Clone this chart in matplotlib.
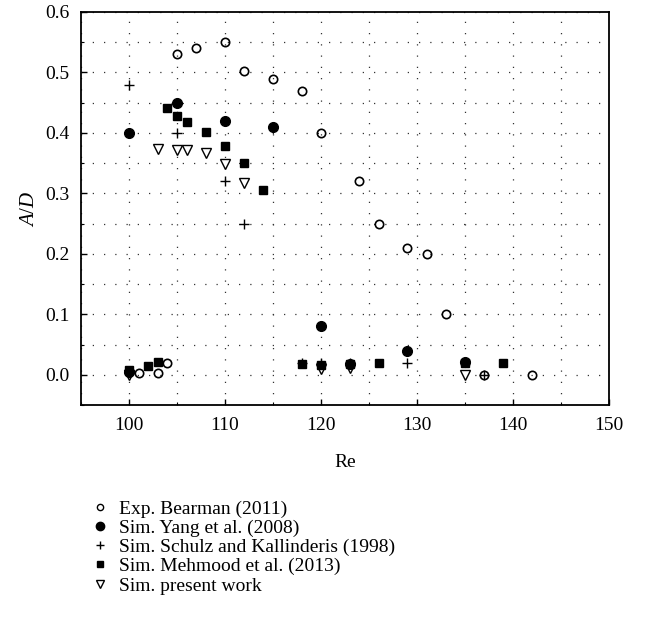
import numpy as np
import matplotlib
matplotlib.use("Agg")
from matplotlib import pyplot as plt
from matplotlib.ticker import MultipleLocator
from matplotlib.lines import Line2D

plt.rcParams["font.family"] = ["Liberation Serif", "DejaVu Serif"]
plt.rcParams["mathtext.fontset"] = "custom"
plt.rcParams["mathtext.rm"] = "Liberation Serif"
plt.rcParams["mathtext.it"] = "Liberation Serif:italic"

# Exp. Bearman (2011)
bearman_re = [101, 103, 104, 105, 107, 110, 112, 115, 118, 120, 124, 126, 129, 131, 133, 137, 142]
bearman_ad = [0.003, 0.003, 0.02, 0.53, 0.54, 0.55, 0.502, 0.49, 0.47, 0.40, 0.32, 0.25, 0.21, 0.20, 0.10, 0.0, 0.0]

# Sim. Yang et al. (2008)
yang_re = [100, 100, 105, 110, 115, 120, 123, 129, 135]
yang_ad = [0.40, 0.004, 0.45, 0.42, 0.41, 0.08, 0.018, 0.04, 0.021]

# Sim. Schulz and Kallinderis (1998)
schulz_re = [100, 105, 110, 112, 118, 120, 123, 129, 137]
schulz_ad = [0.48, 0.40, 0.32, 0.25, 0.02, 0.02, 0.02, 0.02, 0.0]

# Sim. Mehmood et al. (2013)
mehmood_re = [100, 102, 103, 104, 105, 106, 108, 110, 112, 114, 118, 120, 123, 126, 135, 139]
mehmood_ad = [0.008, 0.014, 0.021, 0.442, 0.428, 0.418, 0.401, 0.378, 0.351, 0.305,
              0.018, 0.016, 0.017, 0.02, 0.019, 0.02]

# Sim. present work
present_re = [100, 103, 105, 106, 108, 110, 112, 120, 123, 135]
present_ad = [0.0, 0.373, 0.372, 0.372, 0.367, 0.349, 0.318, 0.01, 0.012, 0.0]

labels = ["Exp. Bearman (2011)", "Sim. Yang et al. (2008)",
          "Sim. Schulz and Kallinderis (1998)", "Sim. Mehmood et al. (2013)",
          "Sim. present work"]

fig = plt.figure(figsize=(6.45, 6.35), dpi=100)
ax = fig.add_axes([81 / 645, 1 - 405 / 635, 528 / 645, 393 / 635])

ax.plot(present_re, present_ad, "v", ms=7.2, mfc="white", mec="black", mew=1.0, ls="none", zorder=3)
ax.plot(mehmood_re, mehmood_ad, "s", ms=6.2, mfc="black", mec="black", ls="none", zorder=4)
ax.plot(yang_re, yang_ad, "o", ms=7.0, mfc="black", mec="black", ls="none", zorder=4)
ax.plot(bearman_re, bearman_ad, "o", ms=6.0, mfc="none", mec="black", mew=1.2, ls="none", zorder=5)
ax.plot(schulz_re, schulz_ad, "+", ms=6.5, mec="black", mew=1.0, ls="none", zorder=6)

ax.set_xlim(95, 150)
ax.set_ylim(-0.05, 0.6)
ax.xaxis.set_major_locator(MultipleLocator(10))
ax.yaxis.set_major_locator(MultipleLocator(0.1))
ax.xaxis.set_minor_locator(MultipleLocator(5))
ax.yaxis.set_minor_locator(MultipleLocator(0.05))
ax.yaxis.set_major_formatter(lambda v, p: "%.1f" % v)
ax.grid(which="both", color="#333333", linestyle=(0, (1, 8)), linewidth=0.9)
ax.set_axisbelow(True)
ax.tick_params(which="major", direction="in", length=4.5, width=1, labelsize=14)
ax.tick_params(axis="x", which="major", pad=9)
ax.tick_params(axis="y", which="major", pad=8.5)
ax.tick_params(which="minor", direction="in", length=2.2, width=0.8)
for s in ax.spines.values():
    s.set_linewidth(1.3)

ax.set_xlabel("Re", fontsize=14, labelpad=14)
ax.set_ylabel("$A$/$D$", fontsize=15, labelpad=4)

handles = [
    Line2D([], [], marker="o", ms=4.5, mfc="none", mec="black", mew=1.0, ls="none"),
    Line2D([], [], marker="o", ms=6, mfc="black", mec="black", ls="none"),
    Line2D([], [], marker="+", ms=5.5, mec="black", mew=1.0, ls="none"),
    Line2D([], [], marker="s", ms=5, mfc="black", mec="black", ls="none"),
    Line2D([], [], marker="v", ms=6, mfc="white", mec="black", mew=1.0, ls="none"),
]
fig.legend(handles, labels, loc="upper left", bbox_to_anchor=(92 / 645, 1 - 500 / 635),
           frameon=False, fontsize=14, handlelength=0.8, handletextpad=0.6,
           labelspacing=0.08, borderpad=0, borderaxespad=0)

fig.savefig("out.png", dpi=100)
